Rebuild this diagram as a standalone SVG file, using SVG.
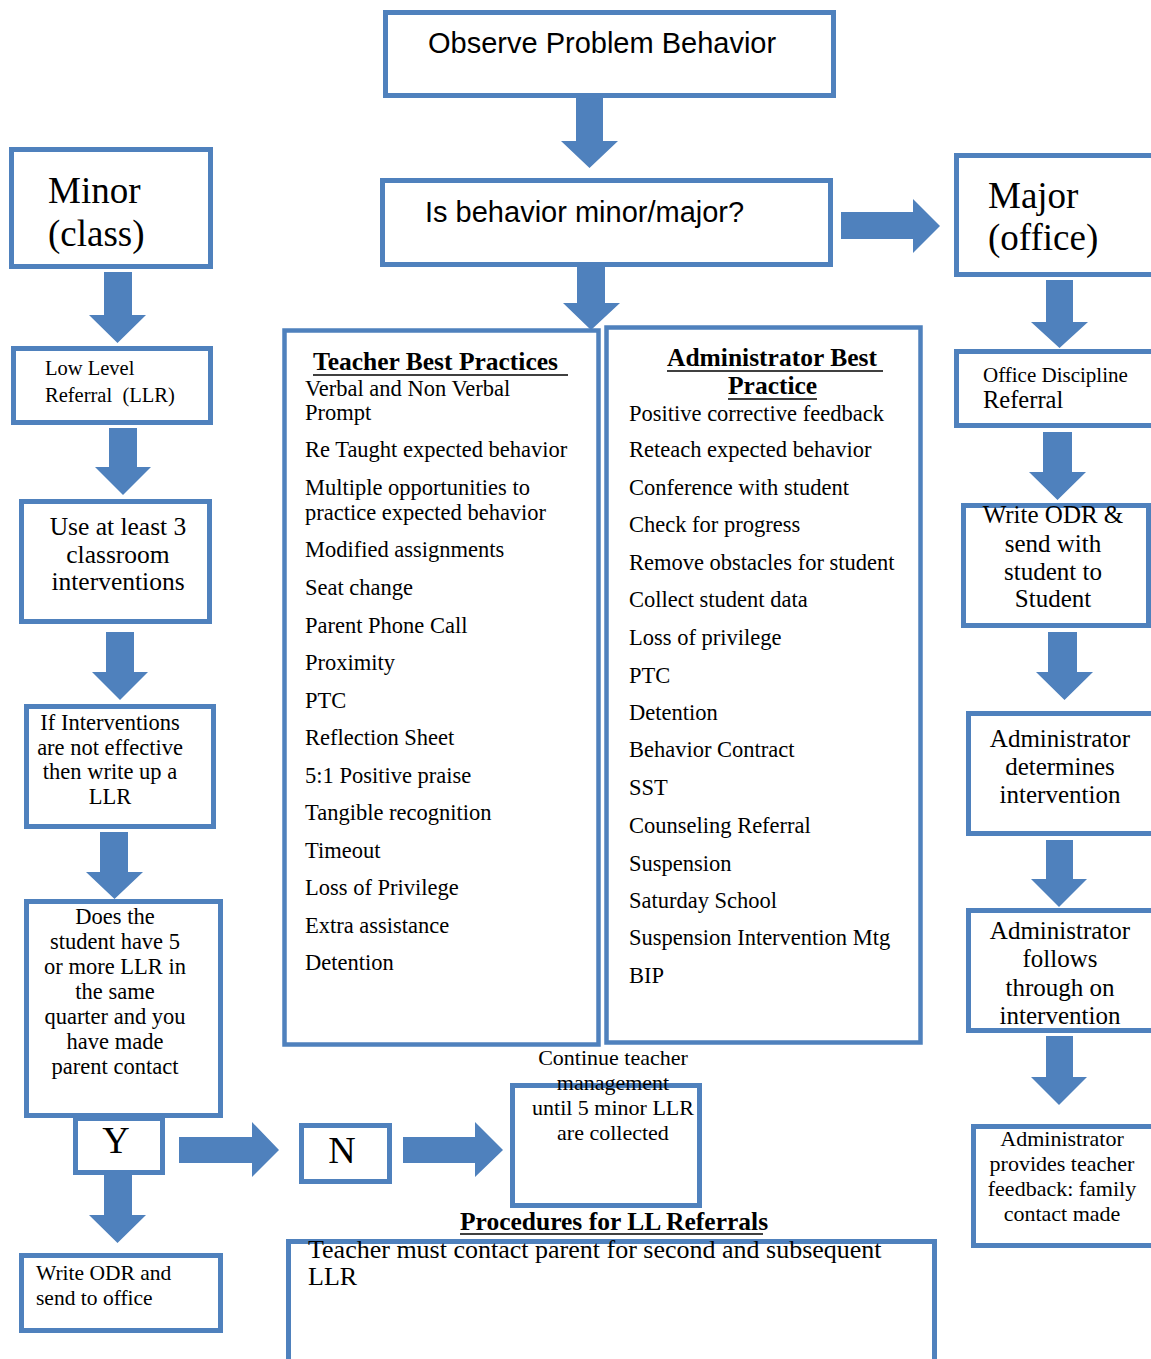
<svg xmlns="http://www.w3.org/2000/svg" width="1151" height="1359" viewBox="0 0 1151 1359">
<style>
.box{fill:#fff;stroke:#4F81BD;stroke-width:5}
.col{fill:#fff;stroke:#4F81BD;stroke-width:4.5}
.arr{fill:#4F81BD;stroke:none}
.ul{stroke:#000;stroke-width:1.6}
text{font-family:"Liberation Serif","Times New Roman",serif;fill:#000}
.sans{font-family:"Liberation Sans",Arial,sans-serif;font-size:29px}
.big{font-size:37px}
.li{font-size:22.5px}
.hd{font-size:25.5px;font-weight:bold}
.c{text-anchor:middle}
</style>
<rect width="1151" height="1359" fill="#fff"/>
<g id="observe"><rect class="box" x="385.5" y="12.5" width="448" height="83"/><text class="sans" x="428" y="53">Observe Problem Behavior</text></g>
<g id="minor-major"><rect class="box" x="382.5" y="180.5" width="448" height="84"/><text class="sans" x="425" y="222">Is behavior minor/major?</text></g>
<g id="minor"><rect class="box" x="11.5" y="149.5" width="199" height="117"/><text class="big" x="48" y="203">Minor</text><text class="big" x="48" y="246">(class)</text></g>
<g id="major"><rect class="box" x="956.5" y="155.5" width="220" height="119"/><text class="big" x="988" y="208">Major</text><text class="big" x="988" y="250">(office)</text></g>
<g id="llr"><rect class="box" x="13.5" y="348.5" width="197" height="74"/><text font-size="20.5" x="45" y="375">Low Level</text><text font-size="20.5" x="45" y="402" xml:space="preserve">Referral  (LLR)</text></g>
<g id="use3"><rect class="box" x="21.5" y="501.5" width="188" height="120"/><g class="c" font-size="25.5"><text x="118" y="535">Use at least 3</text><text x="118" y="563">classroom</text><text x="118" y="590">interventions</text></g></g>
<g id="ifnot"><rect class="box" x="26.5" y="706.5" width="187" height="120"/><g class="c" font-size="22.5"><text x="110" y="730">If Interventions</text><text x="110" y="755">are not effective</text><text x="110" y="779">then write up a</text><text x="110" y="804">LLR</text></g></g>
<g id="does5"><rect class="box" x="26.5" y="901.5" width="194" height="214"/><g class="c" font-size="22.5"><text x="115" y="924">Does the</text><text x="115" y="949">student have 5</text><text x="115" y="974">or more LLR in</text><text x="115" y="999">the same</text><text x="115" y="1024">quarter and you</text><text x="115" y="1049">have made</text><text x="115" y="1074">parent contact</text></g></g>
<g id="yes"><rect class="box" x="75.5" y="1118.5" width="87" height="54"/><text class="c" font-size="38" x="116" y="1153">Y</text></g>
<g id="no"><rect class="box" x="301.5" y="1125.5" width="88" height="56"/><text class="c" font-size="38" x="342" y="1163">N</text></g>
<g id="write-odr"><rect class="box" x="21.5" y="1255.5" width="199" height="75"/><text font-size="21.5" x="36" y="1280">Write ODR and</text><text font-size="21.5" x="36" y="1305">send to office</text></g>
<g id="continue"><rect class="box" x="512.5" y="1085.5" width="187" height="120"/><g class="c" font-size="22"><text x="613" y="1065">Continue teacher</text><text x="613" y="1090">management</text><text x="613" y="1115">until 5 minor LLR</text><text x="613" y="1140">are collected</text></g></g>
<g id="teacher"><rect class="col" x="284.5" y="330.5" width="314" height="714"/>
<text class="hd" x="313" y="370">Teacher Best Practices</text><line class="ul" x1="313" y1="375" x2="568" y2="375"/>
<g class="li"><text x="305" y="396">Verbal and Non Verbal</text><text x="305" y="420">Prompt</text><text x="305" y="457">Re Taught expected behavior</text><text x="305" y="495">Multiple opportunities to</text><text x="305" y="520">practice expected behavior</text><text x="305" y="557">Modified assignments</text><text x="305" y="595">Seat change</text><text x="305" y="633">Parent Phone Call</text><text x="305" y="670">Proximity</text><text x="305" y="708">PTC</text><text x="305" y="745">Reflection Sheet</text><text x="305" y="783">5:1 Positive praise</text><text x="305" y="820">Tangible recognition</text><text x="305" y="858">Timeout</text><text x="305" y="895">Loss of Privilege</text><text x="305" y="933">Extra assistance</text><text x="305" y="970">Detention</text></g></g>
<g id="admin"><rect class="col" x="606.5" y="327.5" width="314" height="715"/>
<text class="hd" x="667" y="366" font-size="25">Administrator Best</text><line class="ul" x1="667" y1="371" x2="883" y2="371"/>
<text class="hd" x="728" y="394" font-size="25">Practice</text><line class="ul" x1="728" y1="399" x2="817" y2="399"/>
<g class="li"><text x="629" y="421">Positive corrective feedback</text><text x="629" y="457">Reteach expected behavior</text><text x="629" y="495">Conference with student</text><text x="629" y="532">Check for progress</text><text x="629" y="570">Remove obstacles for student</text><text x="629" y="607">Collect student data</text><text x="629" y="645">Loss of privilege</text><text x="629" y="683">PTC</text><text x="629" y="720">Detention</text><text x="629" y="757">Behavior Contract</text><text x="629" y="795">SST</text><text x="629" y="833">Counseling Referral</text><text x="629" y="871">Suspension</text><text x="629" y="908">Saturday School</text><text x="629" y="945">Suspension Intervention Mtg</text><text x="629" y="983">BIP</text></g></g>
<g id="procedures"><rect class="box" x="288.5" y="1241.5" width="646" height="130"/>
<text class="hd" x="460" y="1230">Procedures for LL Referrals</text><line class="ul" x1="460" y1="1234" x2="763" y2="1234"/>
<text font-size="26" x="308" y="1258">Teacher must contact parent for second and subsequent</text><text font-size="26" x="308" y="1285">LLR</text></g>
<g id="office-ref"><rect class="box" x="956.5" y="351.5" width="220" height="74"/><text font-size="21" x="983" y="382">Office Discipline</text><text font-size="24.5" x="983" y="408">Referral</text></g>
<g id="write-odr-major"><rect class="box" x="963.5" y="505.5" width="185" height="120"/><g class="c" font-size="25"><text x="1053" y="523">Write ODR &amp;</text><text x="1053" y="552">send with</text><text x="1053" y="580">student to</text><text x="1053" y="607">Student</text></g></g>
<g id="admin-determines"><rect class="box" x="968.5" y="713.5" width="200" height="120"/><g class="c" font-size="25"><text x="1060" y="747">Administrator</text><text x="1060" y="775">determines</text><text x="1060" y="803">intervention</text></g></g>
<g id="admin-follows"><rect class="box" x="968.5" y="910.5" width="200" height="120"/><g class="c" font-size="25"><text x="1060" y="939">Administrator</text><text x="1060" y="967">follows</text><text x="1060" y="996">through on</text><text x="1060" y="1024">intervention</text></g></g>
<g id="admin-feedback"><rect class="box" x="973.5" y="1126.5" width="200" height="119"/><g class="c" font-size="22"><text x="1062" y="1146">Administrator</text><text x="1062" y="1171">provides teacher</text><text x="1062" y="1196">feedback: family</text><text x="1062" y="1221">contact made</text></g></g>
<g id="connectors" class="arr">
<polygon points="576,98 603,98 603,141 618,141 589.5,168 561,141 576,141"/>
<polygon points="577,267 605,267 605,303 620,303 591,330 563,303 577,303"/>
<polygon points="841,212 913,212 913,199 940,226 913,253 913,239 841,239"/>
<polygon points="104,272 132,272 132,315 146,315 117.5,343 89,315 104,315"/>
<polygon points="109,428 137,428 137,467 151,467 123,495 95,467 109,467"/>
<polygon points="106,632 134,632 134,672 148,672 120,700 92,672 106,672"/>
<polygon points="100,832 128,832 128,872 143,872 114.5,899 86,872 100,872"/>
<polygon points="104,1175 132,1175 132,1215 146,1215 117.5,1243 89,1215 104,1215"/>
<polygon points="179,1137 252,1137 252,1122 279,1150 252,1177 252,1163 179,1163"/>
<polygon points="403,1137 475,1137 475,1122 503,1150 475,1177 475,1163 403,1163"/>
<polygon points="1046,280 1073,280 1073,322 1088,322 1059.5,348 1031,322 1046,322"/>
<polygon points="1043,432 1072,432 1072,472 1086,472 1057.5,500 1029,472 1043,472"/>
<polygon points="1048,632 1077,632 1077,672 1093,672 1064.5,700 1036,672 1048,672"/>
<polygon points="1046,840 1073,840 1073,879 1087,879 1059,907 1031,879 1046,879"/>
<polygon points="1046,1036 1073,1036 1073,1077 1087,1077 1059,1105 1031,1077 1046,1077"/>
</g>
</svg>
